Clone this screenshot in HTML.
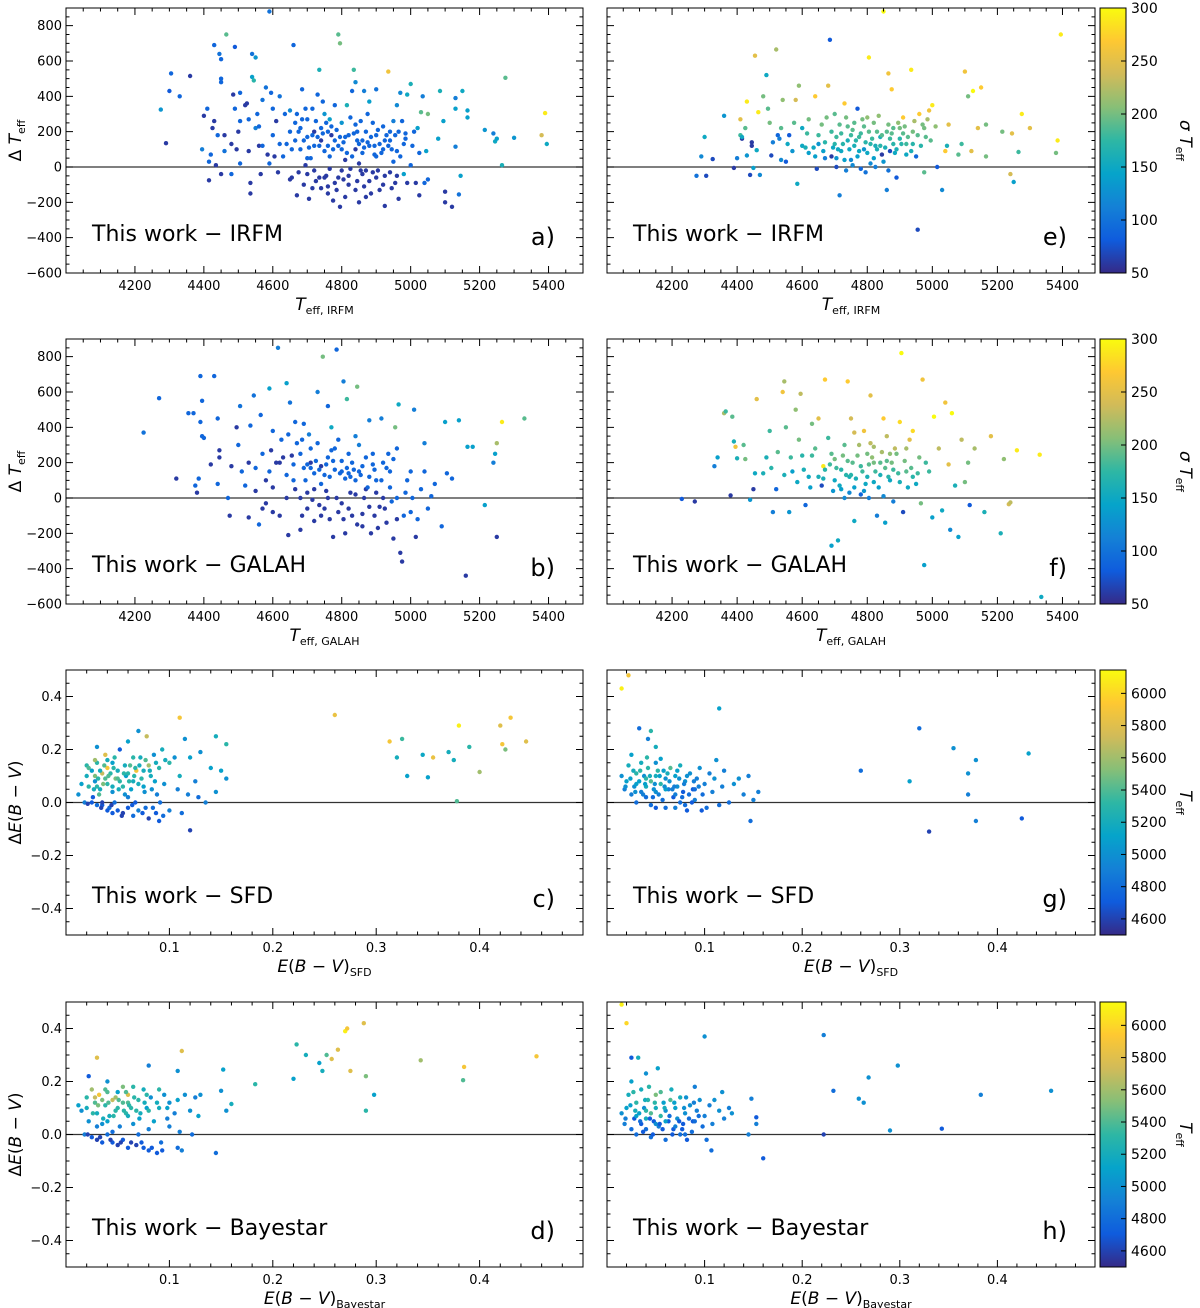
<!DOCTYPE html>
<html><head><meta charset="utf-8">
<style>
html,body{margin:0;padding:0;background:#fff;}
svg{display:block;font-family:"DejaVu Sans","Liberation Sans",sans-serif;}
</style></head>
<body>
<svg id="fig" width="1200" height="1308" viewBox="0 0 1200 1308" xmlns="http://www.w3.org/2000/svg">
<defs>
<linearGradient id="parula" x1="0" y1="1" x2="0" y2="0">
<stop offset="0" stop-color="#352a87"/><stop offset="0.125" stop-color="#0f5cdd"/><stop offset="0.25" stop-color="#1481d6"/><stop offset="0.375" stop-color="#06a4ca"/><stop offset="0.5" stop-color="#2eb7a4"/><stop offset="0.625" stop-color="#87bf77"/><stop offset="0.75" stop-color="#d1bb59"/><stop offset="0.875" stop-color="#fec832"/><stop offset="1" stop-color="#f9fb0e"/>
</linearGradient>
</defs>
</svg>
<script>
// ---- data: [x, y, colour value] ----
const ptsA=[[4275,325,130],[4290,135,60],[4300,430,80],[4305,530,90],[4330,400,90],[4360,515,60],[4395,100,110],[4400,290,60],[4410,330,90],[4415,30,90],[4415,-75,60],[4420,70,90],[4425,220,60],[4430,690,90],[4430,260,60],[4435,10,60],[4440,180,90],[4445,640,100],[4450,500,90],[4450,480,90],[4450,610,90],[4450,-40,60],[4460,180,60],[4460,90,100],[4465,750,190],[4480,-40,90],[4485,410,60],[4490,330,90],[4490,680,80],[4495,100,60],[4500,200,60],[4505,420,90],[4505,260,90],[4505,20,90],[4520,350,60],[4525,360,60],[4530,90,60],[4535,-150,60],[4535,-90,60],[4540,510,140],[4540,640,100],[4545,490,170],[4550,620,130],[4550,220,110],[4555,300,90],[4560,120,60],[4565,-40,60],[4570,380,100],[4580,450,100],[4585,70,60],[4590,880,100],[4590,20,90],[4595,420,90],[4600,180,90],[4605,60,60],[4610,260,60],[4620,400,100],[4640,130,90],[4650,320,120],[4655,-60,60],[4660,690,90],[4665,250,90],[4670,-160,60],[4680,220,90],[4685,440,90],[4690,-100,60],[4700,170,90],[4700,50,90],[4705,-180,60],[4715,330,90],[4720,200,60],[4725,-80,60],[4730,410,90],[4735,550,160],[4740,150,60],[4745,370,90],[4750,300,130],[4755,-50,60],[4760,120,90],[4760,-110,60],[4765,270,140],[4770,180,60],[4775,-190,60],[4780,350,90],[4790,-60,60],[4790,750,190],[4795,-225,60],[4795,700,200],[4800,250,130],[4810,40,60],[4815,350,160],[4820,-100,60],[4830,430,90],[4835,550,180],[4840,480,120],[4840,100,60],[4845,200,90],[4850,-200,60],[4855,-20,60],[4860,150,90],[4865,430,110],[4870,-170,60],[4875,300,90],[4880,370,140],[4890,-30,60],[4895,70,90],[4900,440,100],[4900,180,90],[4910,-130,60],[4920,100,90],[4925,-220,60],[4935,540,260],[4940,200,90],[4950,30,90],[4955,-90,60],[4960,350,120],[4965,-180,60],[4970,420,120],[4975,260,90],[4980,-40,140],[4985,190,90],[4990,410,150],[5000,470,160],[5000,10,90],[5015,-90,60],[5020,220,140],[5025,-160,60],[5030,310,190],[5035,400,110],[5040,-90,90],[5045,90,140],[5050,300,200],[5050,-70,90],[5080,160,140],[5085,430,160],[5095,260,140],[5100,-200,60],[5100,-140,60],[5120,-225,60],[5130,330,140],[5130,390,110],[5130,115,110],[5140,-155,100],[5145,-50,140],[5150,430,150],[5165,320,140],[5165,280,140],[5215,210,130],[5240,190,110],[5245,145,150],[5250,160,140],[5265,10,160],[5275,505,190],[5300,165,130],[5380,180,240],[5390,305,290],[5395,130,150],[4680,100,90],[4700,270,90],[4720,120,90],[4740,220,90],[4760,200,90],[4780,150,90],[4800,100,90],[4820,180,90],[4840,240,90],[4860,80,90],[4880,120,90],[4900,60,90],[4920,230,90],[4940,150,90],[4960,90,90],[4980,130,90],[4700,-40,60],[4740,-120,60],[4780,-90,60],[4820,-50,60],[4860,-40,60],[4900,-60,60],[4940,-30,60],[4720,-20,60],[4760,-150,60],[4800,-20,60],[4840,-130,60],[4880,-80,60],[4650,200,90],[4670,300,90],[4690,150,90],[4710,50,90],[4730,170,90],[4750,90,90],[4770,230,90],[4790,120,90],[4810,170,90],[4830,60,90],[4850,130,90],[4870,200,90],[4890,250,90],[4910,130,90],[4930,180,90],[4950,260,110],[4650,-70,60],[4620,130,90],[4600,330,90],[4570,120,90],[4630,60,90],[4750,-60,60],[4810,-170,60],[4850,20,60],[4870,-20,60],[4920,-100,60],[4960,-50,60],[4990,-90,60],[5010,200,90],[4970,60,90],
[4665,150,90],[4685,270,90],[4705,110,90],[4725,260,90],[4745,190,90],[4765,60,90],[4785,210,90],[4805,140,90],[4825,280,90],[4845,150,90],[4865,110,90],[4885,170,90],[4905,210,90],[4925,150,90],[4945,100,90],[4965,200,90],[4985,160,90],[4675,-30,60],[4695,10,60],[4715,-120,60],[4735,-60,60],[4765,-10,60],[4785,-130,60],[4805,-70,60],[4825,-10,60],[4845,-80,60],[4865,-110,60],[4885,-150,60],[4905,-20,60],[4925,-50,60],[4945,-120,60],[4615,-30,60],[4635,300,90],[4655,100,90],[4675,200,90],[4695,330,90],[4715,180,90],[4735,120,90],[4755,250,90],[4775,100,90],[4795,170,90],[4815,80,90],[4835,190,90],[4855,260,90],[4875,140,90],[4895,120,90],[4915,80,90],[4935,120,90],[4955,180,90],[5005,120,90],[5025,80,90],[4560,230,90],[4530,270,90],[4480,130,60]];
const ptsB=[[4225,370,100],[4270,565,90],[4320,110,60],[4355,480,90],[4370,480,90],[4375,70,90],[4380,30,60],[4385,110,90],[4390,430,90],[4390,690,90],[4395,550,90],[4395,350,90],[4400,340,90],[4420,190,60],[4430,690,90],[4440,80,90],[4440,450,90],[4445,270,60],[4445,230,60],[4470,0,90],[4475,-100,60],[4480,180,60],[4495,400,60],[4500,300,90],[4505,520,100],[4510,150,90],[4520,70,90],[4530,-110,60],[4535,410,90],[4545,580,100],[4550,170,90],[4560,-150,90],[4565,470,90],[4570,250,90],[4580,100,60],[4590,620,140],[4595,270,60],[4600,380,90],[4610,200,60],[4615,850,110],[4620,-100,60],[4630,230,60],[4640,650,140],[4645,-210,60],[4650,540,100],[4660,100,90],[4670,310,90],[4680,-180,60],[4690,420,90],[4700,30,60],[4705,360,110],[4710,200,60],[4720,-130,60],[4730,600,110],[4740,180,60],[4745,800,200],[4750,-60,60],[4760,520,90],[4770,400,150],[4775,-220,60],[4780,280,90],[4785,840,90],[4790,-80,60],[4800,150,90],[4805,660,110],[4810,-200,60],[4815,560,180],[4820,250,90],[4830,-100,60],[4840,350,110],[4845,630,200],[4850,150,90],[4860,-160,60],[4870,50,60],[4880,440,110],[4885,-200,60],[4890,250,90],[4900,100,90],[4910,-50,60],[4915,450,110],[4930,-140,60],[4940,150,90],[4950,-230,60],[4955,400,200],[4960,280,90],[4965,530,150],[4970,-310,60],[4975,-360,60],[4980,-100,90],[4990,100,90],[5000,-80,90],[5010,500,110],[5015,-220,60],[5020,-120,90],[5030,50,90],[5040,310,110],[5040,150,90],[5050,-60,90],[5060,10,90],[5070,80,90],[5090,-160,90],[5100,430,140],[5105,140,90],[5120,110,90],[5140,440,140],[5160,-440,60],[5165,290,140],[5180,290,140],[5215,-40,140],[5240,200,110],[5245,250,140],[5250,-220,60],[5265,430,290],[5250,310,220],[5330,450,190],[4700,190,90],[4720,140,90],[4740,80,90],[4760,230,90],[4780,160,90],[4800,210,90],[4820,140,90],[4840,100,90],[4860,180,90],[4880,120,90],[4900,30,60],[4920,200,90],[4940,60,90],[4680,250,90],[4660,190,90],[4640,130,90],[4620,200,60],[4600,60,60],[4720,50,60],[4760,0,60],[4800,-30,60],[4840,20,60],[4880,-50,60],[4920,0,60],[4700,-60,60],[4740,-100,60],[4820,-60,60],[4860,-90,60],[4680,0,60],[4640,0,60],[4580,-30,60],[4600,-80,60],[4730,310,90],[4790,330,90],[4850,300,110],[4690,170,90],[4750,130,90],[4810,110,90],[4870,230,90],[4930,170,90],[4960,0,90],[5000,150,90],
[4710,170,90],[4725,210,90],[4735,160,90],[4755,190,90],[4765,120,90],[4775,210,90],[4795,140,90],[4815,170,90],[4825,120,90],[4835,160,90],[4855,130,90],[4875,60,90],[4895,160,90],[4915,100,90],[4935,250,90],[4655,240,60],[4665,50,60],[4685,-100,60],[4695,100,90],[4715,-10,60],[4735,-40,60],[4755,40,60],[4765,-120,60],[4785,0,60],[4805,-120,60],[4825,30,60],[4845,-150,60],[4865,0,60],[4895,-100,60],[4905,-170,60],[4925,-60,60],[4945,-20,90],[4960,-120,60],[4985,30,90],[5005,0,90],[4625,330,90],[4645,360,90],[4665,430,90],[4685,330,90],[4710,280,90],[4770,270,90],[4830,200,90],[4890,190,90],[4950,220,90],[4570,-60,60],[4550,40,60],[4590,150,90],[4530,200,60]];
const ptsC=[[0.11,0.32,5900],[0.26,0.33,5850],[0.313,0.23,5900],[0.32,0.17,5200],[0.325,0.24,5350],[0.33,0.10,5100],[0.345,0.18,5150],[0.35,0.095,5100],[0.355,0.17,5850],[0.37,0.19,5200],[0.375,0.16,5200],[0.38,0.29,6100],[0.39,0.21,5300],[0.378,0.005,5400],[0.40,0.115,5600],[0.42,0.29,5800],[0.422,0.22,5900],[0.425,0.20,5500],[0.43,0.32,5900],[0.445,0.23,5800],[0.02,0.10,5200],[0.022,0.06,5300],[0.025,0.12,5100],[0.025,0.0,4700],[0.028,0.08,5000],[0.03,0.21,5000],[0.03,0.15,5300],[0.032,0.03,5400],[0.035,0.11,5700],[0.035,-0.01,4700],[0.038,0.18,5800],[0.04,0.13,5900],[0.04,0.07,5300],[0.042,-0.02,4800],[0.045,0.15,5100],[0.045,0.04,5000],[0.048,0.09,5500],[0.05,-0.03,4700],[0.05,0.12,5200],[0.052,0.20,4700],[0.055,0.06,5300],[0.055,-0.04,4600],[0.058,0.10,5100],[0.06,0.02,4900],[0.06,0.23,5100],[0.062,0.14,5400],[0.065,-0.05,4800],[0.065,0.08,5200],[0.068,0.12,5900],[0.07,0.27,5000],[0.07,-0.03,4900],[0.072,0.17,5200],[0.075,0.06,5100],[0.078,0.25,5700],[0.08,0.14,5600],[0.08,-0.06,4600],[0.082,0.1,5200],[0.085,0.18,5000],[0.088,0.03,4900],[0.09,-0.07,4700],[0.09,0.13,5300],[0.093,0.2,5200],[0.095,0.07,5000],[0.1,0.15,5300],[0.1,-0.03,4900],[0.105,0.17,5000],[0.108,0.05,4900],[0.11,0.1,5200],[0.112,-0.04,4800],[0.115,0.24,5000],[0.118,0.03,4900],[0.12,-0.105,4600],[0.12,0.17,5100],[0.125,0.08,4900],[0.128,0.02,4800],[0.13,0.19,5000],[0.135,0.0,4900],[0.14,0.13,5100],[0.145,0.25,5200],[0.145,0.04,5000],[0.15,0.12,5100],[0.155,0.22,5300],[0.155,0.09,5000],[0.015,0.07,5100],[0.018,0.0,4900],[0.012,0.03,5000],[0.02,0.14,5300],[0.028,0.16,5600],[0.033,0.05,5200],[0.038,0.09,5400],[0.043,0.11,5300],[0.047,0.0,4800],[0.052,0.08,5300],[0.057,0.14,5200],[0.063,0.05,5100],[0.067,0.0,4700],[0.073,0.09,5300],[0.077,-0.02,4800],[0.083,0.05,5000],[0.087,-0.04,4700],[0.035,0.0,4600],[0.04,-0.03,4700],[0.03,-0.01,4800],[0.06,-0.02,4700],[0.045,-0.04,4700],[0.022,0.13,5400],[0.028,0.1,5500],[0.033,0.12,5200],[0.04,0.16,5200],[0.05,0.09,5400],[0.06,0.11,5300],[0.07,0.07,5200],[0.03,0.06,5300],[0.045,0.06,5200],[0.065,0.17,5300],[0.075,0.12,5200],
[0.021,-0.005,4600],[0.026,0.02,4700],[0.031,0.09,5300],[0.036,0.07,5500],[0.041,0.1,5400],[0.046,0.13,5300],[0.051,0.05,5200],[0.056,0.11,5300],[0.061,0.08,5300],[0.066,0.1,5300],[0.071,0.14,5200],[0.076,0.04,5000],[0.081,0.12,5200],[0.086,0.08,5100],[0.091,0.0,4800],[0.096,0.16,5200],[0.034,-0.02,4600],[0.044,-0.01,4600],[0.054,-0.05,4600],[0.064,-0.01,4700],[0.074,-0.04,4700],[0.084,-0.02,4800],[0.094,-0.05,4800],[0.027,0.05,5200],[0.037,0.14,5400],[0.047,0.17,5300],[0.057,0.03,5000],[0.067,0.13,5300],[0.077,0.16,5400],[0.087,0.15,5200]];
const ptsD=[[0.03,0.29,5800],[0.112,0.315,5800],[0.08,0.26,4900],[0.108,0.24,5000],[0.152,0.245,5100],[0.15,0.165,5000],[0.155,0.09,5000],[0.16,0.115,5200],[0.145,-0.07,4800],[0.183,0.19,5300],[0.22,0.21,5100],[0.223,0.34,5300],[0.232,0.30,5200],[0.245,0.27,5100],[0.248,0.24,5200],[0.252,0.30,5400],[0.257,0.285,5800],[0.263,0.32,5800],[0.27,0.39,6100],[0.272,0.40,5900],[0.275,0.24,5800],[0.288,0.42,5800],[0.29,0.22,5500],[0.29,0.09,5300],[0.298,0.15,5100],[0.343,0.28,5600],[0.385,0.255,5900],[0.384,0.205,5400],[0.455,0.295,5900],[0.012,0.11,5100],[0.015,0.09,5000],[0.018,0.0,4900],[0.02,0.14,5300],[0.022,0.05,5000],[0.022,0.22,4700],[0.025,0.17,5600],[0.025,-0.01,4700],[0.028,0.12,5400],[0.03,0.08,5200],[0.03,-0.02,4600],[0.032,0.15,5900],[0.035,0.04,5000],[0.035,-0.03,4700],[0.038,0.11,5300],[0.04,0.2,5000],[0.04,0.0,4800],[0.042,0.07,5200],[0.045,-0.03,4700],[0.045,0.13,5700],[0.048,0.09,5300],[0.05,0.16,5100],[0.05,-0.04,4600],[0.052,0.03,4900],[0.055,0.12,5400],[0.055,-0.02,4700],[0.058,0.08,5300],[0.06,0.15,5800],[0.06,-0.05,4700],[0.063,0.1,5300],[0.065,0.04,5000],[0.065,0.18,5300],[0.068,-0.04,4600],[0.07,0.13,5300],[0.072,0.08,5200],[0.075,-0.05,4700],[0.075,0.17,5200],[0.078,0.1,5100],[0.08,0.02,4900],[0.08,-0.06,4700],[0.082,0.14,5000],[0.085,0.05,5100],[0.088,-0.07,4700],[0.09,0.1,5200],[0.092,-0.03,4800],[0.095,0.15,5000],[0.098,0.06,4900],[0.1,0.03,4900],[0.1,0.12,5000],[0.105,0.08,4900],[0.108,-0.05,4800],[0.11,0.01,4900],[0.112,-0.06,4900],[0.115,0.15,5000],[0.12,0.09,5000],[0.122,0.0,4800],[0.125,0.14,4900],[0.128,0.07,5100],[0.13,0.15,5000],[0.04,0.05,5100],[0.05,0.1,5300],[0.06,0.07,5200],[0.07,0.0,4800],[0.03,0.03,4900],[0.045,0.01,4800],[0.02,0.1,5200],[0.035,0.13,5500],[0.06,0.12,5400],[0.08,0.09,5300],[0.09,0.17,5300],[0.055,0.18,5500],[0.04,0.16,5400],
[0.021,0.0,4600],[0.026,0.08,5300],[0.031,0.11,5500],[0.036,0.06,5200],[0.041,0.12,5400],[0.046,0.07,5300],[0.051,0.13,5400],[0.056,0.09,5300],[0.061,0.11,5300],[0.066,0.14,5300],[0.071,0.06,5100],[0.076,0.12,5200],[0.033,-0.01,4600],[0.043,-0.02,4600],[0.053,-0.03,4600],[0.063,-0.03,4600],[0.073,-0.03,4700],[0.083,-0.05,4700],[0.093,-0.06,4700],[0.028,0.14,5700],[0.038,0.17,5400],[0.048,0.14,5600],[0.058,0.16,5400],[0.068,0.09,5300],[0.078,0.15,5300],[0.088,0.12,5200],[0.098,0.1,5100],[0.108,0.13,5100]];
const ptsE=[[4275,-50,100],[4290,60,120],[4300,170,150],[4305,-50,70],[4325,45,70],[4360,290,130],[4390,-5,60],[4400,50,110],[4410,270,250],[4410,180,180],[4415,160,60],[4415,170,150],[4425,220,190],[4430,370,290],[4430,65,130],[4440,-45,70],[4445,140,60],[4445,120,60],[4450,-5,140],[4455,630,250],[4460,95,150],[4465,310,290],[4470,-45,120],[4480,400,200],[4490,520,150],[4495,330,190],[4500,250,200],[4505,65,70],[4510,140,110],[4520,665,220],[4525,180,90],[4530,160,110],[4535,40,120],[4540,380,210],[4550,30,80],[4560,180,80],[4570,90,130],[4580,380,240],[4585,-95,150],[4590,460,210],[4600,220,150],[4610,110,160],[4620,270,200],[4640,400,270],[4645,-10,70],[4650,130,130],[4660,240,200],[4670,50,110],[4680,460,250],[4685,720,80],[4690,60,60],[4700,300,190],[4705,0,70],[4715,-160,110],[4720,190,180],[4730,360,270],[4740,150,160],[4750,40,120],[4760,250,190],[4770,330,80],[4775,170,180],[4780,-10,90],[4790,100,130],[4800,280,210],[4805,620,290],[4810,130,170],[4820,50,140],[4830,200,190],[4840,170,160],[4845,70,60],[4860,-130,110],[4865,530,260],[4870,90,70],[4875,440,270],[4880,220,190],[4890,-60,80],[4900,160,170],[4910,280,270],[4920,130,180],[4935,550,290],[4940,200,200],[4950,60,90],[4955,-355,70],[4960,300,270],[4970,240,200],[4975,-30,190],[4980,170,190],[4990,320,260],[5000,350,290],[5010,230,210],[5015,0,80],[5030,-130,120],[5040,90,270],[5045,120,160],[5050,240,250],[5080,70,190],[5090,130,180],[5100,540,260],[5110,400,200],[5120,90,250],[5125,430,300],[5140,220,250],[5150,450,270],[5165,240,200],[5165,60,200],[5215,200,200],[5240,-40,240],[5245,190,250],[5250,-85,140],[5265,85,180],[5275,300,290],[5300,220,250],[5380,80,200],[5385,150,290],[5395,750,290],[4850,880,300],[4700,130,170],[4720,90,150],[4740,230,190],[4760,120,160],[4780,190,180],[4800,80,150],[4820,250,200],[4840,120,170],[4860,200,190],[4880,130,170],[4900,220,200],[4920,70,150],[4940,130,170],[4750,180,180],[4790,230,190],[4830,100,160],[4870,160,180],[4910,190,190],[4710,100,150],[4730,40,140],[4770,60,140],[4810,20,120],[4850,30,130],[4890,100,160],[4650,180,180],[4670,140,170],[4690,200,180],[4620,80,140],[4600,120,150],[4640,60,140],
[4705,170,180],[4715,240,190],[4725,130,170],[4735,280,200],[4745,100,150],[4755,210,190],[4765,150,170],[4775,90,150],[4785,270,200],[4795,140,170],[4805,200,190],[4815,160,180],[4825,120,160],[4835,290,210],[4845,180,190],[4855,110,160],[4865,240,200],[4875,190,190],[4885,80,150],[4895,250,210],[4905,130,170],[4915,230,200],[4925,170,190],[4935,90,160],[4945,260,220],[4955,180,190],[4965,120,170],[4975,220,200],[4985,270,220],[4995,150,190],[4665,90,140],[4675,280,200],[4695,110,150],[4705,50,130],[4735,-20,110],[4755,10,120],[4795,-30,100],[4825,0,110],[4865,-20,100],[4555,130,150],[4575,250,190],[4615,190,180],[4635,110,150],[4535,220,190]];
const ptsF=[[4230,-5,80],[4270,-20,60],[4330,180,110],[4340,230,140],[4360,480,220],[4365,490,180],[4380,15,60],[4385,460,190],[4390,320,160],[4395,290,260],[4400,225,160],[4420,300,190],[4425,220,200],[4440,-10,130],[4450,50,60],[4455,140,150],[4460,560,250],[4480,140,160],[4490,230,160],[4500,380,180],[4510,-80,110],[4520,50,90],[4525,260,190],[4540,600,260],[4545,660,220],[4550,400,190],[4560,-80,130],[4570,150,140],[4580,500,210],[4590,330,200],[4595,590,230],[4600,240,170],[4610,-40,90],[4620,120,150],[4630,420,200],[4640,280,190],[4650,450,250],[4660,70,70],[4665,180,290],[4670,670,270],[4680,340,180],[4690,-270,140],[4700,220,200],[4710,-240,150],[4720,50,140],[4730,300,190],[4740,660,270],[4745,120,160],[4750,450,240],[4760,-130,150],[4770,240,200],[4780,20,90],[4790,380,260],[4800,120,160],[4810,580,250],[4820,290,220],[4830,-100,110],[4840,200,190],[4850,450,270],[4855,-140,140],[4860,350,230],[4870,100,150],[4880,-20,110],[4890,250,200],[4900,430,280],[4905,820,300],[4910,-80,70],[4920,150,190],[4930,330,250],[4940,380,280],[4950,80,150],[4960,230,200],[4965,-30,200],[4970,670,260],[4975,-380,140],[4980,200,180],[4990,150,180],[5000,-110,140],[5005,460,300],[5020,280,230],[5030,-70,150],[5040,540,260],[5050,190,250],[5055,-180,120],[5060,480,300],[5070,70,160],[5080,-220,140],[5090,330,230],[5100,90,200],[5110,200,200],[5115,-40,80],[5130,280,220],[5160,-80,160],[5180,350,250],[5210,-200,160],[5220,220,210],[5235,-35,240],[5240,-25,230],[5260,270,290],[5330,245,290],[5335,-560,150],[4700,100,150],[4720,160,170],[4740,210,190],[4760,60,140],[4780,180,180],[4800,250,200],[4820,90,150],[4840,130,160],[4860,210,190],[4880,160,180],[4900,90,160],[4920,280,220],[4940,120,170],[4690,250,190],[4670,160,170],[4650,120,160],[4630,240,180],[4730,0,120],[4790,40,130],[4850,10,120],[4750,130,170],[4810,310,230],[4870,250,210],[4760,370,240],[4820,200,200],
[4705,170,180],[4715,70,150],[4725,240,200],[4735,130,170],[4755,200,190],[4765,110,160],[4775,300,220],[4785,150,180],[4795,80,150],[4805,190,190],[4815,230,210],[4825,150,180],[4835,60,140],[4845,260,220],[4855,170,190],[4865,120,170],[4875,200,200],[4885,280,230],[4895,140,180],[4915,210,200],[4925,60,150],[4935,170,190],[4955,140,180],[4665,110,160],[4685,190,180],[4695,40,130],[4745,30,120],[4805,0,110],[4625,60,140],[4605,160,160],[4585,90,150],[4565,230,180],[4545,130,160],[4505,170,170]];
const ptsG=[[0.015,0.43,6100],[0.022,0.48,5900],[0.115,0.355,5100],[0.033,0.28,4800],[0.045,0.27,5300],[0.042,0.24,4900],[0.05,0.21,5200],[0.055,0.165,5100],[0.147,-0.07,4800],[0.26,0.12,4800],[0.31,0.08,5100],[0.32,0.28,4800],[0.33,-0.11,4600],[0.355,0.205,5000],[0.37,0.11,5000],[0.37,0.03,4900],[0.378,0.16,5000],[0.378,-0.07,4900],[0.425,-0.06,4700],[0.432,0.185,5100],[0.015,0.1,5000],[0.018,0.05,4900],[0.02,0.08,5100],[0.022,0.14,5200],[0.025,0.03,4900],[0.025,0.18,5100],[0.028,0.06,5000],[0.03,0.11,5300],[0.03,0.0,4800],[0.033,0.08,5100],[0.035,0.04,4900],[0.035,0.15,5200],[0.038,0.1,5000],[0.04,0.02,4800],[0.04,0.06,5200],[0.042,0.13,5300],[0.045,0.08,5400],[0.045,-0.01,4800],[0.048,0.05,5000],[0.05,0.1,5200],[0.05,0.15,5000],[0.053,0.03,4900],[0.055,0.07,5300],[0.058,0.12,5100],[0.06,-0.02,4800],[0.06,0.09,5000],[0.063,0.05,4900],[0.065,0.13,5400],[0.068,0.02,4700],[0.07,0.1,5100],[0.072,0.06,5000],[0.075,0.0,4800],[0.075,0.14,5200],[0.078,0.04,4700],[0.08,0.08,5000],[0.082,-0.03,4700],[0.085,0.11,5000],[0.088,0.05,4700],[0.09,0.01,4900],[0.092,0.09,4900],[0.095,0.13,5000],[0.098,0.03,4800],[0.1,0.07,4900],[0.102,-0.02,4800],[0.105,0.11,4900],[0.108,0.04,4900],[0.11,0.09,5000],[0.112,0.16,5000],[0.115,-0.01,4800],[0.118,0.06,4900],[0.12,0.12,4900],[0.125,0.0,4800],[0.13,0.07,5000],[0.135,0.09,5000],[0.14,0.03,4900],[0.145,0.1,4900],[0.15,0.01,4900],[0.155,0.04,4900],[0.03,0.07,5100],[0.04,0.09,5300],[0.05,0.04,5000],[0.06,0.05,5100],[0.07,0.03,4900],[0.08,-0.01,4800],[0.09,0.05,4800],[0.07,-0.02,4900],[0.05,-0.02,4700],
[0.019,0.06,5000],[0.024,0.09,5100],[0.029,0.04,5000],[0.034,0.12,5300],[0.039,0.07,5100],[0.044,0.1,5200],[0.049,0.07,5000],[0.054,0.1,5100],[0.059,0.06,5000],[0.064,0.08,5000],[0.069,0.06,4900],[0.074,0.09,5000],[0.079,0.07,4900],[0.084,0.03,4800],[0.089,0.08,4900],[0.094,0.06,4900],[0.037,0.03,4900],[0.047,0.02,4800],[0.057,0.01,4800],[0.067,0.05,4900],[0.077,0.02,4800],[0.087,0.0,4700],[0.097,-0.03,4700],[0.027,0.12,5200],[0.041,0.17,5300],[0.052,0.12,5300],[0.062,0.11,5200],[0.072,0.12,5100],[0.082,0.1,5000]];
const ptsH=[[0.015,0.49,6100],[0.02,0.42,6000],[0.1,0.37,5000],[0.222,0.375,4900],[0.298,0.26,5000],[0.268,0.215,5000],[0.232,0.165,4800],[0.258,0.135,5000],[0.263,0.12,5000],[0.383,0.15,4900],[0.455,0.165,5000],[0.29,0.015,5000],[0.343,0.022,4700],[0.222,0.0,4600],[0.16,-0.09,4700],[0.107,-0.06,4800],[0.025,0.29,4700],[0.032,0.29,5200],[0.04,0.23,5000],[0.052,0.25,5100],[0.148,0.135,4900],[0.153,0.065,4700],[0.153,0.04,4900],[0.145,0.0,4900],[0.015,0.08,5000],[0.018,0.04,4900],[0.02,0.1,5100],[0.022,0.15,5200],[0.025,0.02,4800],[0.025,0.2,5100],[0.028,0.06,4700],[0.03,0.12,5300],[0.03,0.0,4800],[0.033,0.08,5100],[0.035,0.04,4700],[0.035,0.17,5200],[0.038,0.1,5000],[0.04,0.02,4800],[0.04,0.06,5200],[0.042,0.13,5300],[0.045,0.08,5400],[0.045,-0.01,4800],[0.048,0.05,4700],[0.05,0.1,5200],[0.05,0.15,5500],[0.053,0.03,4900],[0.055,0.07,5300],[0.058,0.12,5100],[0.06,-0.02,4800],[0.06,0.09,5000],[0.063,0.05,4700],[0.065,0.13,5400],[0.068,0.02,4700],[0.07,0.1,5100],[0.072,0.06,5000],[0.075,0.0,4800],[0.075,0.14,5200],[0.078,0.04,4700],[0.08,0.08,5000],[0.082,-0.02,4700],[0.085,0.11,5000],[0.088,0.05,4700],[0.09,0.18,4900],[0.092,0.09,4900],[0.095,0.13,5000],[0.098,0.03,4800],[0.1,0.07,4900],[0.102,-0.02,4800],[0.105,0.11,4900],[0.108,0.04,4900],[0.11,0.13,5000],[0.115,0.09,5000],[0.118,0.16,5000],[0.12,0.06,4900],[0.125,0.1,4900],[0.128,0.08,5000],[0.03,0.07,5100],[0.04,0.09,5300],[0.05,0.04,5000],[0.06,0.05,5100],[0.07,0.03,4900],[0.08,0.0,4800],[0.09,0.05,4800],
[0.019,0.06,4900],[0.024,0.11,5100],[0.029,0.09,5200],[0.034,0.05,4800],[0.039,0.13,5200],[0.044,0.06,4700],[0.049,0.12,5300],[0.054,0.04,4700],[0.059,0.1,5200],[0.064,0.07,4800],[0.069,0.12,5100],[0.074,0.05,4700],[0.079,0.1,5000],[0.084,0.06,4800],[0.089,0.12,4900],[0.094,0.07,4800],[0.037,0.01,4700],[0.047,0.0,4700],[0.057,0.02,4700],[0.067,0.0,4700],[0.077,0.02,4700],[0.087,0.01,4800],[0.027,0.16,5300],[0.043,0.18,5300],[0.055,0.16,5400],[0.066,0.17,5200],[0.081,0.14,5000]];
const teffTicksX=[4200,4400,4600,4800,5000,5200,5400];
const teffTicksY=[-600,-400,-200,0,200,400,600,800];
const ebvTicksX=[0.1,0.2,0.3,0.4];
const debvTicksY=[-0.4,-0.2,0.0,0.2,0.4];
const sigmaTicks=[50,100,150,200,250,300];
const teffCbTicks=[4600,4800,5000,5200,5400,5600,5800,6000];

const NS='http://www.w3.org/2000/svg';
const svg=document.getElementById('fig');
function el(tag,attrs,parent){const e=document.createElementNS(NS,tag);for(const k in attrs)e.setAttribute(k,attrs[k]);(parent||svg).appendChild(e);return e;}
const stops=[[53,42,135],[15,92,221],[20,129,214],[6,164,202],[46,183,164],[135,191,119],[209,187,89],[254,200,50],[249,251,14]];
function cmap(t){t=Math.max(0,Math.min(1,t));const s=t*8;const i=Math.min(7,Math.floor(s));const f=s-i;const a=stops[i],b=stops[i+1];return `rgb(${Math.round(a[0]+(b[0]-a[0])*f)},${Math.round(a[1]+(b[1]-a[1])*f)},${Math.round(a[2]+(b[2]-a[2])*f)})`;}
function fmt(v,dec){const s=v.toFixed(dec);return s.replace('-','\u2212');}

const H=265;
const rows=[8,339,670,1002];
const LX=[66,583], RX=[607,1095];

function panel(o){
  const g=el('g',{});
  
  
  const [x0,x1]=o.px, y0=o.top, y1=o.top+H;
  const sx=v=>x0+(v-o.xlim[0])/(o.xlim[1]-o.xlim[0])*(x1-x0);
  const sy=v=>y1-(v-o.ylim[0])/(o.ylim[1]-o.ylim[0])*H;
  const zl=el('line',{x1:x0,x2:x1,y1:sy(0),y2:sy(0),stroke:'#333','stroke-width':1.2},g);
  
  
  const pg=el('g',{},g);
  
  
  for(const p of o.pts){
    const c=el('circle',{cx:sx(p[0]).toFixed(1),cy:sy(p[1]).toFixed(1),r:2.2,fill:cmap((p[2]-o.clim[0])/(o.clim[1]-o.clim[0]))},pg);
    
    
  }
  const fr=el('rect',{x:x0,y:y0,width:x1-x0,height:H,fill:'none',stroke:'#000','stroke-width':1},g);
  
  
  let d='';
  for(let v=o.xlim[0];v<=o.xlim[1]+1e-9;v+=o.xminor){const x=sx(v);d+=`M${x},${y1}v-3.5M${x},${y0}v3.5`;}
  for(let v=o.ylim[0];v<=o.ylim[1]+1e-9;v+=o.yminor){const y=sy(v);d+=`M${x0},${y}h3.5M${x1},${y}h-3.5`;}
  for(const v of o.xt){const x=sx(v);d+=`M${x},${y1}v-7M${x},${y0}v7`;}
  for(const v of o.yt){const y=sy(v);d+=`M${x0},${y}h7M${x1},${y}h-7`;}
  const tk=el('path',{d:d,stroke:'#000','stroke-width':1,fill:'none'},g);
  
  
  for(const v of o.xt){const t=el('text',{x:sx(v),y:y1+17,'font-size':13,'text-anchor':'middle'},g);t.textContent=fmt(v,o.xdec);
    
    }
  if(o.showY){for(const v of o.yt){const t=el('text',{x:x0-4,y:sy(v)+4.5,'font-size':13,'text-anchor':'end'},g);t.textContent=fmt(v,o.ydec);
    
    }}
  const xl=el('text',{x:(x0+x1)/2,y:y1+37,'font-size':17,'text-anchor':'middle'},g);
  xl.innerHTML=o.xlabel;
  
  
  if(o.showY){
    const yl=el('text',{x:0,y:0,'font-size':17,'text-anchor':'middle',transform:`translate(21,${(y0+y1)/2}) rotate(-90)`},g);
    yl.innerHTML=o.ylabel;
    
    
  }
  const tt=el('text',{x:x0+26,y:y1-32,'font-size':22},g);tt.textContent=o.title;
  
  
  const lb=el('text',{x:x1-28,y:y1-28,'font-size':24,'text-anchor':'end'},g);lb.textContent=o.letter;
  
  
}
function colorbar(top,clim,ticks,label){
  const g=el('g',{});
  
  
  const x0=1100,w=26;
  el('rect',{x:x0,y:top,width:w,height:H,fill:'url(#parula)',stroke:'#000','stroke-width':1},g);
  for(const v of ticks){const y=top+H-(v-clim[0])/(clim[1]-clim[0])*H;
    el('line',{x1:x0+w-5,x2:x0+w,y1:y,y2:y,stroke:'#000'},g);
    const t=el('text',{x:x0+w+5,y:y+5,'font-size':14},g);t.textContent=v;
    
    }
  const l=el('text',{x:0,y:0,'font-size':17,'text-anchor':'middle',transform:`translate(1180,${top+H/2}) rotate(90)`},g);
  l.innerHTML=label;
  
  
}
const teffX=[4000,5500], teffY=[-600,900], ebvX=[0,0.5], debY=[-0.5,0.5];
const sig=[50,300], tcl=[4500,6145];
const dT='Δ <tspan font-style="italic">T</tspan><tspan font-size="11" dy="4">eff</tspan>';
const dE='Δ<tspan font-style="italic">E</tspan>(<tspan font-style="italic">B</tspan> − <tspan font-style="italic">V</tspan>)';
function teffLab(s){return `<tspan font-style="italic">T</tspan><tspan font-size="11" dy="4">eff, ${s}</tspan>`;}
function ebvLab(s){return `<tspan font-style="italic">E</tspan>(<tspan font-style="italic">B</tspan> − <tspan font-style="italic">V</tspan>)<tspan font-size="11" dy="4">${s}</tspan>`;}
const common1={xlim:teffX,ylim:teffY,xt:teffTicksX,yt:teffTicksY,xminor:50,yminor:50,xdec:0,ydec:0,clim:sig,ylabel:dT};
const common2={xlim:ebvX,ylim:debY,xt:ebvTicksX,yt:debvTicksY,xminor:0.02,yminor:0.05,xdec:1,ydec:1,clim:tcl,ylabel:dE};
panel({...common1,name:'panel-a',px:LX,top:rows[0],pts:ptsA,showY:true,xlabel:teffLab('IRFM'),title:'This work − IRFM',letter:'a)'});
panel({...common1,name:'panel-e',px:RX,top:rows[0],pts:ptsE,showY:false,xlabel:teffLab('IRFM'),title:'This work − IRFM',letter:'e)'});
panel({...common1,name:'panel-b',px:LX,top:rows[1],pts:ptsB,showY:true,xlabel:teffLab('GALAH'),title:'This work − GALAH',letter:'b)'});
panel({...common1,name:'panel-f',px:RX,top:rows[1],pts:ptsF,showY:false,xlabel:teffLab('GALAH'),title:'This work − GALAH',letter:'f)'});
panel({...common2,name:'panel-c',px:LX,top:rows[2],pts:ptsC,showY:true,xlabel:ebvLab('SFD'),title:'This work − SFD',letter:'c)'});
panel({...common2,name:'panel-g',px:RX,top:rows[2],pts:ptsG,showY:false,xlabel:ebvLab('SFD'),title:'This work − SFD',letter:'g)'});
panel({...common2,name:'panel-d',px:LX,top:rows[3],pts:ptsD,showY:true,xlabel:ebvLab('Bayestar'),title:'This work − Bayestar',letter:'d)'});
panel({...common2,name:'panel-h',px:RX,top:rows[3],pts:ptsH,showY:false,xlabel:ebvLab('Bayestar'),title:'This work − Bayestar',letter:'h)'});
const sL='<tspan font-style="italic">σ T</tspan><tspan font-size="11" dy="4">eff</tspan>';
const tL='<tspan font-style="italic">T</tspan><tspan font-size="11" dy="4">eff</tspan>';
colorbar(rows[0],sig,sigmaTicks,sL);
colorbar(rows[1],sig,sigmaTicks,sL);
colorbar(rows[2],tcl,teffCbTicks,tL);
colorbar(rows[3],tcl,teffCbTicks,tL);
</script>
</body></html>
